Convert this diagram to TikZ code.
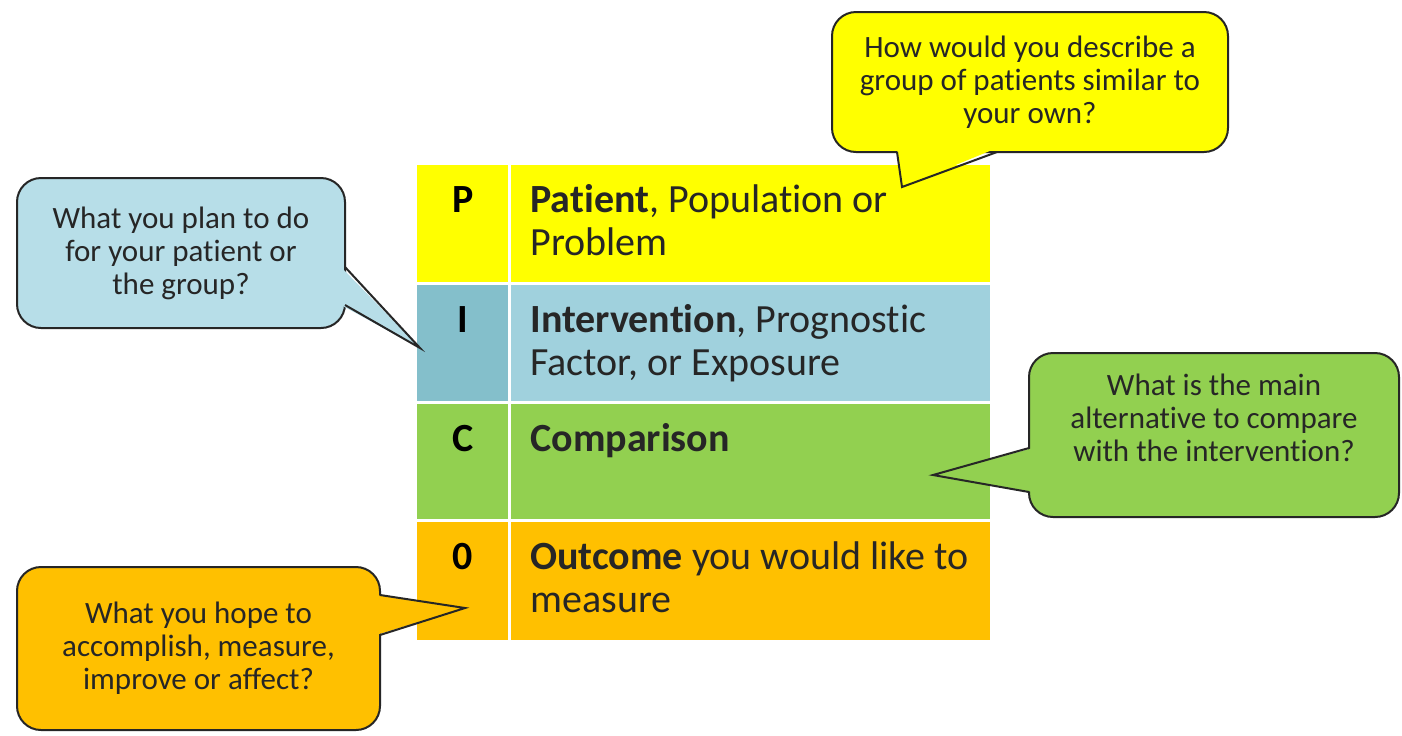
\documentclass[tikz,border=0pt]{standalone}
\usepackage{xcolor}
\usepackage{fontspec}
\setmainfont{Carlito}[Ligatures=NoCommon]
\usepackage{tikz}
\usetikzlibrary{positioning}

\definecolor{picoYellow}{HTML}{FFFF00}
\definecolor{picoBlueL}{HTML}{84BFCB}
\definecolor{picoBlue}{HTML}{A0D1DD}
\definecolor{picoGreen}{HTML}{92D050}
\definecolor{picoOrange}{HTML}{FFC000}
\definecolor{bubbleBlue}{HTML}{B7DEE8}
\definecolor{inkDark}{HTML}{262626}

\begin{document}
\begin{tikzpicture}[x=0.5pt,y=-0.5pt,
    letter/.style={anchor=base, font=\fontsize{20}{21.5}\selectfont\bfseries, text=black},
    rowtext/.style={anchor=base west, align=left, inner sep=0pt,
        font=\fontsize{20}{21.5}\selectfont, text=inkDark},
    bubble/.style={draw=black!85, line width=1pt, rounded corners=12pt, align=center,
        inner sep=0pt, font=\fontsize{15.5}{16.5}\selectfont, text=inkDark},
    bline/.style={draw=black!85, line width=1pt}]

    % Page
    \fill[white] (0,0) rectangle (1402,735);
    \useasboundingbox (0,0) rectangle (1402,735);

    % PICO rows
    \foreach \key/\ytop/\ybot/\cl/\cr in {P/165/282/picoYellow/picoYellow,
            I/285/401/picoBlueL/picoBlue, C/404/519/picoGreen/picoGreen,
            O/522/640/picoOrange/picoOrange} {
        \fill[\cl] (417,\ytop) rectangle (508,\ybot);
        \fill[\cr] (511,\ytop) rectangle (990,\ybot);
    }

    % Letters
    \node[letter] (letP) at (463,212) {P};
    \node[letter] (letI) at (463,332) {I};
    \node[letter] (letC) at (463,451) {C};
    \node[letter] (letO) at (463,569) {0};

    % Row texts (base = last line)
    \node[rowtext] (txtP) at (530,255) {\textbf{Patient}, Population or\\Problem};
    \node[rowtext] (txtI) at (530,375) {\textbf{Intervention}, Prognostic\\Factor, or Exposure};
    \node[rowtext] (txtC) at (530,451) {\textbf{Comparison}};
    \node[rowtext] (txtO) at (530,612) {\textbf{Outcome} you would like to\\measure};

    % Callouts
    \node[bubble, fill=bubbleBlue, minimum width=164pt, minimum height=75pt] (qI)
        at (181,253) {What you plan to do\\for your patient or\\the group?};
    \node[bubble, fill=picoYellow, minimum width=198pt, minimum height=70pt] (qP)
        at (1030,82) {How would you describe a\\group of patients similar to\\your own?};
    \node[bubble, fill=picoGreen, minimum width=185pt, minimum height=82pt, text depth=17pt] (qC)
        at (1214,435) {What is the main\\alternative to compare\\with the intervention?};
    \node[bubble, fill=picoOrange, minimum width=181.5pt, minimum height=81.5pt] (qO)
        at (198.5,648.5) {What you hope to\\accomplish, measure,\\improve or affect?};

    % Callout tails
    \coordinate (tipI) at (420,348);
    \coordinate (tipP) at (902,187);
    \coordinate (tipC) at (933,475);
    \coordinate (tipO) at (465,608);

    \fill[bubbleBlue] (341,267) -- (tipI) -- (341,305) -- cycle;
    \draw[bline] (345,267) -- (tipI) -- (345,305);

    \fill[picoYellow] (897,148) -- (tipP) -- (997,148) -- cycle;
    \draw[bline] (897,152) -- (tipP) -- (997,152);

    \fill[picoGreen] (1033,448) -- (tipC) -- (1033,492) -- cycle;
    \draw[bline] (1029,448) -- (tipC) -- (1029,492);

    \fill[picoOrange] (376,595) -- (tipO) -- (376,635) -- cycle;
    \draw[bline] (380,595) -- (tipO) -- (380,635);
\end{tikzpicture}
\end{document}
